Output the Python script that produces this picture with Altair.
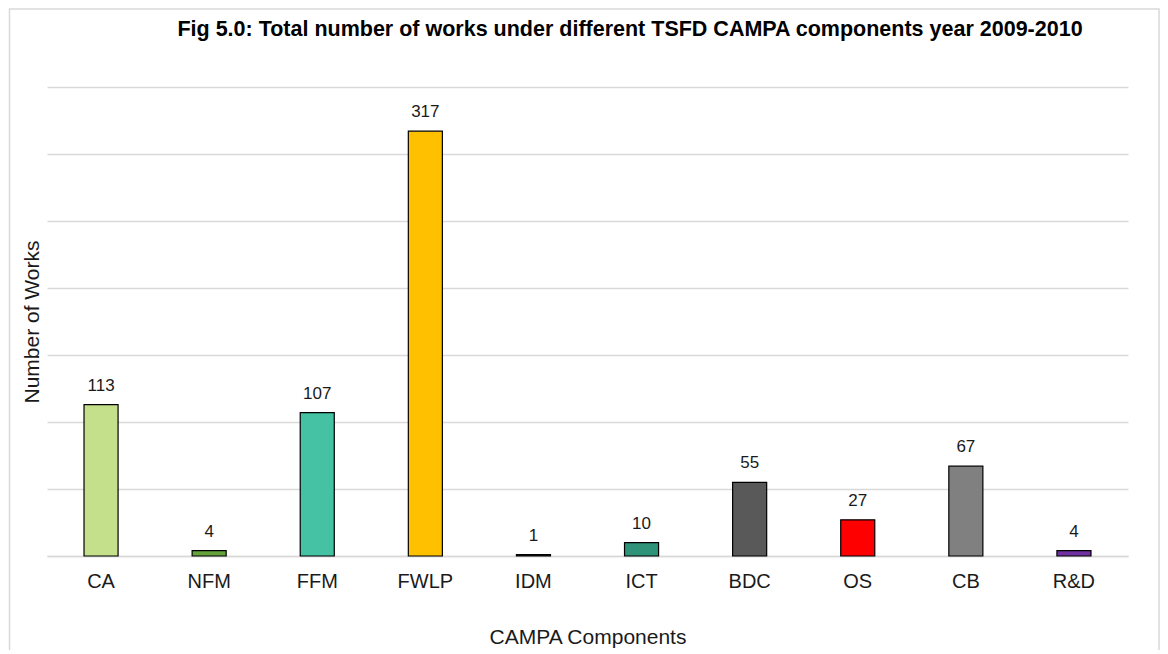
import altair as alt
import pandas as pd

components = ["CA", "NFM", "FFM", "FWLP", "IDM", "ICT", "BDC", "OS", "CB", "R&D"]
works = [113, 4, 107, 317, 1, 10, 55, 27, 67, 4]
colors = ["#c5e08b", "#63a33a", "#45c2a4", "#ffc000", "#2d2d2d",
          "#2f937a", "#595959", "#ff0000", "#808080", "#7030a0"]
grid_values = [0, 50, 100, 150, 200, 250, 300, 350]
title_text = "Fig 5.0: Total number of works under different TSFD CAMPA components year 2009-2010"

df = pd.DataFrame({"component": components, "works": works})

FONT = "Liberation Sans"
TXT = "#1a1a1a"

base = alt.Chart(df).encode(
    x=alt.X(
        "component:N",
        sort=components,
        scale=alt.Scale(paddingInner=0.685, paddingOuter=0.3425),
        axis=alt.Axis(
            title="CAMPA Components",
            titleFontSize=21,
            titleFontWeight="normal",
            titleColor=TXT,
            titlePadding=35,
            labelAngle=0,
            labelFontSize=20,
            labelColor=TXT,
            labelPadding=15,
            ticks=False,
            tickSize=0,
            domain=True,
            domainColor="#d9d9d9",
            domainWidth=1.3,
            grid=False,
        ),
    )
)

bars = base.mark_bar(stroke="black", strokeWidth=1.2).encode(
    y=alt.Y(
        "works:Q",
        scale=alt.Scale(domain=[0, 350]),
        axis=alt.Axis(
            values=grid_values,
            title="Number of Works",
            titleFontSize=21,
            titleFontWeight="normal",
            titleColor=TXT,
            titleX=-5,
            labels=False,
            ticks=False,
            domain=False,
            grid=True,
            gridColor="#d9d9d9",
            gridWidth=1.3,
        ),
    ),
    color=alt.Color("component:N", scale=alt.Scale(domain=components, range=colors), legend=None),
)

labels = base.mark_text(fontSize=17, color=TXT, baseline="alphabetic", dy=-14).encode(
    y=alt.Y("works:Q"),
    text=alt.Text("works:Q"),
)

deco = pd.DataFrame({"t": [title_text]})

frame = alt.Chart(deco).mark_rect(
    fillOpacity=0, stroke="#d9d9d9", strokeWidth=1.5
).encode(
    x=alt.value(-37.5), x2=alt.value(1112), y=alt.value(-78), y2=alt.value(700)
)

title = alt.Chart(deco).mark_text(
    fontSize=21.5, fontWeight="bold", color="#000000", baseline="alphabetic", align="center"
).encode(
    x=alt.value(583), y=alt.value(-51), text="t:N"
)

chart = alt.layer(frame, title, bars, labels).properties(
    width=1081,
    height=469,
    autosize=alt.AutoSizeParams(type="none"),
    padding={"left": 39, "top": 79, "right": 32, "bottom": 94},
).configure(font=FONT).configure_view(stroke=None)

chart.save("out.html", embed_options={"renderer": "svg", "actions": False})
